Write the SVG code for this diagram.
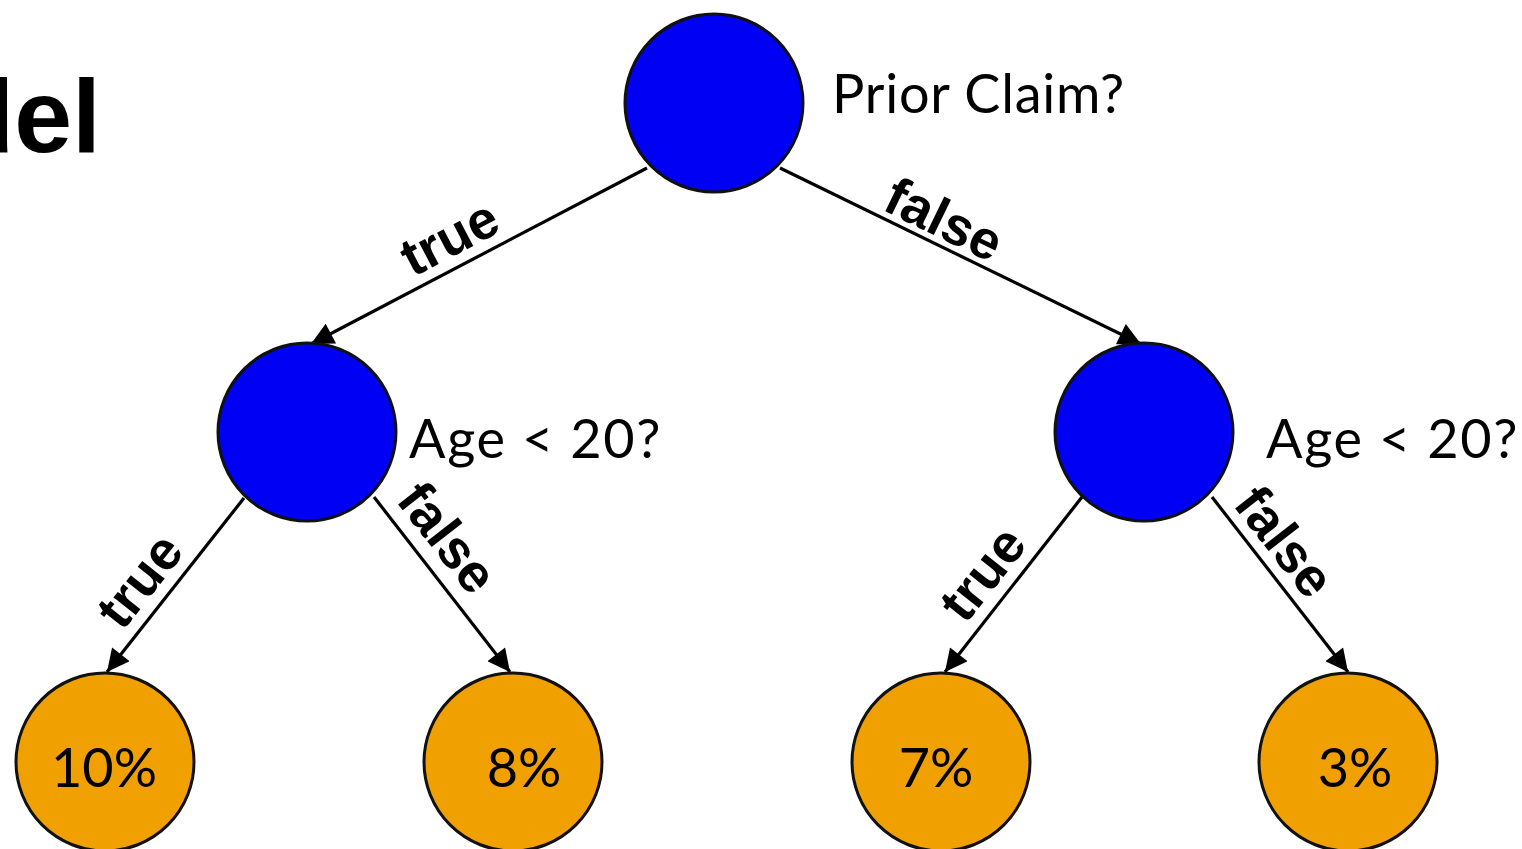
<svg xmlns="http://www.w3.org/2000/svg" width="1522" height="849" viewBox="0 0 1522 849">
  <style>
    .decision { fill: #0000f5; stroke: #111; stroke-width: 3; }
    .leaf { fill: #f0a000; stroke: #111; stroke-width: 3; }
    .edge { stroke: #000; stroke-width: 3.2; fill: none; marker-end: url(#arrow); }
    .edge-label { font-family: "Liberation Sans", Arial, sans-serif; font-weight: bold; font-size: 54px; fill: #000; text-anchor: middle; }
    .node-label { font-family: Lato, "Open Sans", sans-serif; font-size: 54px; fill: #000; }
    .leaf-label { font-family: Lato, "Open Sans", sans-serif; font-size: 54px; fill: #000; text-anchor: middle; }
    .title { font-family: "Liberation Sans", Arial, sans-serif; font-weight: bold; font-size: 104px; fill: #000; text-anchor: end; }
  </style>
  <defs>
    <marker id="arrow" viewBox="0 0 10 10" refX="10" refY="5" markerWidth="8" markerHeight="7" markerUnits="strokeWidth" orient="auto">
      <path d="M0,0 L10,5 L0,10 z" fill="#000"/>
    </marker>
  </defs>

  <rect width="1522" height="849" fill="#fff"/>

  <text class="title" x="101" y="152">Model</text>

  <g id="connectors">
    <line class="edge" x1="647" y1="168" x2="311" y2="344"/>
    <line class="edge" x1="780" y1="168" x2="1141" y2="344"/>
    <line class="edge" x1="244" y1="498" x2="107" y2="672"/>
    <line class="edge" x1="374" y1="497" x2="510" y2="672"/>
    <line class="edge" x1="1082" y1="497" x2="945" y2="672"/>
    <line class="edge" x1="1212" y1="497" x2="1348" y2="672"/>
    <text class="edge-label" transform="translate(458,254) rotate(-27.5)">true</text>
    <text class="edge-label" transform="translate(936,236) rotate(26)">false</text>
    <text class="edge-label" transform="translate(154,592) rotate(-51.6)">true</text>
    <text class="edge-label" transform="translate(433,549) rotate(52)">false</text>
    <text class="edge-label" transform="translate(997,585) rotate(-51.6)">true</text>
    <text class="edge-label" transform="translate(1270,553) rotate(52)">false</text>
  </g>

  <g id="node-prior-claim">
    <circle class="decision" cx="714" cy="103" r="89"/>
    <text class="node-label" x="832" y="113" letter-spacing="0.8">Prior Claim?</text>
  </g>
  <g id="node-age-left">
    <circle class="decision" cx="307" cy="432" r="89"/>
    <text class="node-label" x="409" y="458" letter-spacing="1.6">Age &lt; 20?</text>
  </g>
  <g id="node-age-right">
    <circle class="decision" cx="1144" cy="432" r="89"/>
    <text class="node-label" x="1266" y="458" letter-spacing="1.6">Age &lt; 20?</text>
  </g>
  <g id="leaf-10">
    <circle class="leaf" cx="105" cy="762" r="89"/>
    <text class="leaf-label" x="104" y="787">10%</text>
  </g>
  <g id="leaf-8">
    <circle class="leaf" cx="513" cy="762" r="89"/>
    <text class="leaf-label" x="524" y="787">8%</text>
  </g>
  <g id="leaf-7">
    <circle class="leaf" cx="941" cy="762" r="89"/>
    <text class="leaf-label" x="936" y="787">7%</text>
  </g>
  <g id="leaf-3">
    <circle class="leaf" cx="1348" cy="762" r="89"/>
    <text class="leaf-label" x="1355" y="787">3%</text>
  </g>
</svg>
